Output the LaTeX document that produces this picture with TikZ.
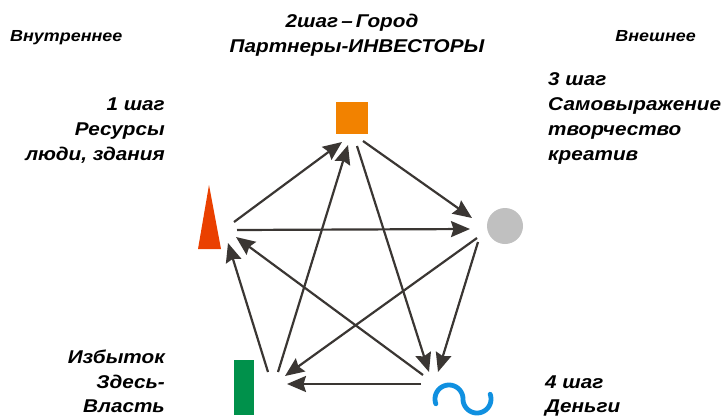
\documentclass[tikz,border=0pt]{standalone}
\usepackage{fontspec}
\newfontfamily\lab{Liberation Sans}[FakeStretch=1.12]
\usetikzlibrary{arrows.meta}
\definecolor{sqor}{RGB}{242,130,0}
\definecolor{tricol}{RGB}{234,64,0}
\definecolor{circol}{RGB}{192,192,192}
\definecolor{grncol}{RGB}{0,145,75}
\definecolor{wavecol}{RGB}{16,144,224}
\definecolor{arrcol}{RGB}{58,54,51}
\begin{document}
\begin{tikzpicture}[x=1pt,y=-1pt,
  conn/.style={draw=arrcol, line width=2.2pt, -{Stealth[length=19pt,width=16pt,inset=2.5pt]}},
  lbl/.style={font=\lab\bfseries\itshape\fontsize{18.5}{22}\selectfont, inner sep=0pt, text=black},
  smalllbl/.style={font=\lab\bfseries\itshape\fontsize{16}{18}\selectfont, inner sep=0pt, text=black},
  shp/.style={inner sep=0pt, draw=none}]
\useasboundingbox (0,0) rectangle (726,416);
% shapes
\node[shp, fill=sqor, minimum size=32pt] (sq) at (352,117.5) {};
\node[shp, circle, fill=circol, minimum size=36pt] (ci) at (505,226) {};
\fill[tricol] (209,185) -- (221,249) -- (198,249) -- cycle;
\node[shp, fill=grncol, minimum width=20pt, minimum height=55pt] (gr) at (244,387.5) {};
\draw[wavecol, line width=4.8pt, line cap=round]
  plot[domain=200:0, samples=40] ({449+14*cos(\x)},{399-14*sin(\x)})
  -- plot[domain=0:200, samples=40] ({477-14*cos(\x)},{399+14*sin(\x)});
% ports
\coordinate (triA) at (234,222);
\coordinate (triB) at (237,230);
\coordinate (triC) at (236,237);
\coordinate (triD) at (228,243);
\coordinate (sqA) at (342,142);
\coordinate (sqB) at (348,145);
\coordinate (sqC) at (363,141);
\coordinate (sqD) at (357,146);
\coordinate (ciA) at (472,218);
\coordinate (ciB) at (470,229);
\coordinate (ciC) at (477,238);
\coordinate (ciD) at (478,242);
\coordinate (grA) at (268,372);
\coordinate (grB) at (278,372);
\coordinate (grC) at (285,376);
\coordinate (grD) at (287,384);
\coordinate (waA) at (429,372);
\coordinate (waB) at (438,372);
\coordinate (waC) at (421,384);
\coordinate (waD) at (423,375);
% connectors
\draw[conn] (triA) -- (sqA);
\draw[conn] (grB) -- (sqB);
\draw[conn] (sqC) -- (ciA);
\draw[conn] (sqD) -- (waA);
\draw[conn] (triB) -- (ciB);
\draw[conn] (ciC) -- (grC);
\draw[conn] (ciD) -- (waB);
\draw[conn] (waC) -- (grD);
\draw[conn] (waD) -- (triC);
\draw[conn] (grA) -- (triD);
% texts
\node[lbl, anchor=base] (h1) at (352,27) {2шаг\,–\,Город};
\node[lbl, anchor=base] (h2) at (357,52) {Партнеры-ИНВЕСТОРЫ};
\node[smalllbl, anchor=base west] (inn) at (10,41) {Внутреннее};
\node[smalllbl, anchor=base east] (out) at (696,41) {Внешнее};
\node[lbl, anchor=base east] (l1) at (165,110) {1 шаг};
\node[lbl, anchor=base east] (l2) at (165,135) {Ресурсы};
\node[lbl, anchor=base east] (l3) at (165,160) {люди, здания};
\node[lbl, anchor=base west] (r1) at (548,85) {3 шаг};
\node[lbl, anchor=base west] (r2) at (548,110) {Самовыражение};
\node[lbl, anchor=base west] (r3) at (548,135) {творчество};
\node[lbl, anchor=base west] (r4) at (548,160) {креатив};
\node[lbl, anchor=base east] (b1) at (165,363) {Избыток};
\node[lbl, anchor=base east] (b2) at (165,388) {Здесь-};
\node[lbl, anchor=base east] (b3) at (165,412) {Власть};
\node[lbl, anchor=base west] (d1) at (545,388) {4 шаг};
\node[lbl, anchor=base west] (d2) at (545,412) {Деньги};
\end{tikzpicture}
\end{document}
